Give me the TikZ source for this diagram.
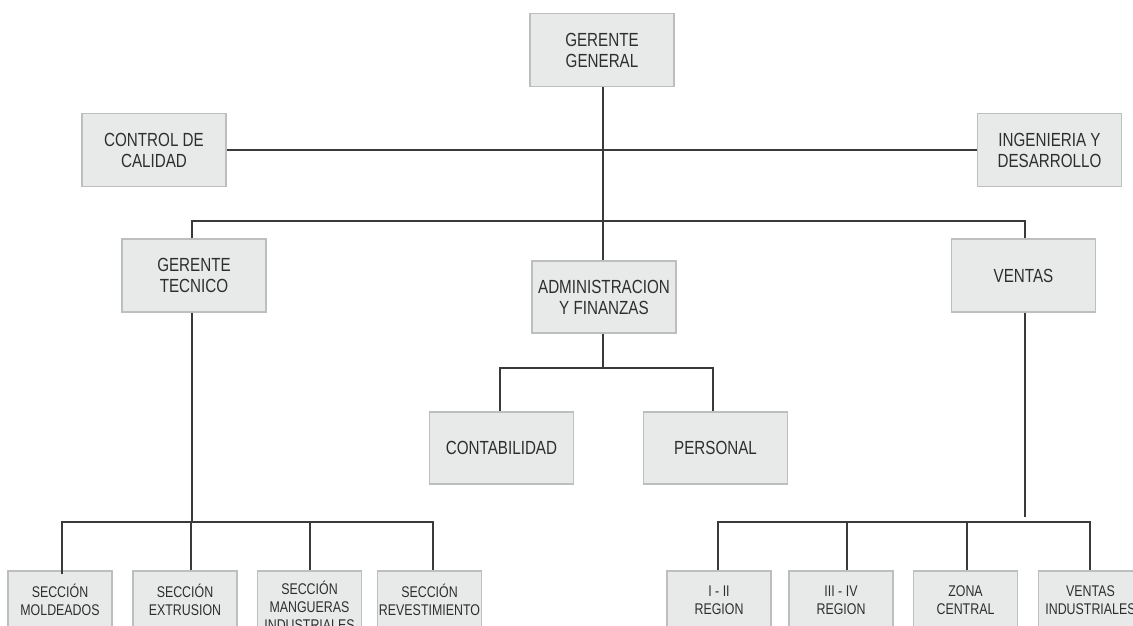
\documentclass[tikz,border=0pt]{standalone}
\usepackage{fontspec}
\setmainfont[FakeStretch=0.8]{Liberation Sans}
\definecolor{boxfill}{HTML}{E8E9E9}
\definecolor{boxline}{HTML}{BDBFBF}
\definecolor{conn}{HTML}{3A3A3A}
\definecolor{txt}{HTML}{2E2E2E}
\begin{document}
\begin{tikzpicture}[x=1pt,y=-1pt,
  unit/.style={draw=boxline,line width=1.3pt,fill=boxfill,inner sep=0pt,align=center,text=txt,
    font=\fontsize{19}{21}\selectfont,minimum width=144pt,minimum height=73pt},
  small/.style={unit,font=\fontsize{15.5}{18}\selectfont,minimum width=104pt,minimum height=58pt},
  link/.style={draw=conn,line width=1.3pt}]
\useasboundingbox (0,0) rectangle (1133,625);
\clip (0,0) rectangle (1133,625);
% nodes
\node[unit] (gg) at (602,50) {GERENTE\\GENERAL};
\node[unit] (cc) at (154,150) {CONTROL DE\\CALIDAD};
\node[unit] (ing) at (1049.5,150) {INGENIERIA Y\\DESARROLLO};
\node[unit] (gt) at (194,275.5) {GERENTE\\TECNICO};
\node[unit,minimum height=72pt] (adm) at (604,297) {ADMINISTRACION\\Y FINANZAS};
\node[unit] (ven) at (1023.5,275.5) {VENTAS};
\node[unit,minimum height=72pt] (cont) at (501.5,448) {CONTABILIDAD};
\node[unit,minimum height=72pt] (pers) at (715.5,448) {PERSONAL};
\node[small] (s1) at (60,600) {SECCIÓN\\MOLDEADOS};
\node[small] (s2) at (185,600) {SECCIÓN\\EXTRUSION};
\node[small,minimum height=70pt] (s3) at (309.5,606) {SECCIÓN\\MANGUERAS\\INDUSTRIALES};
\node[small] (s4) at (429.5,600) {SECCIÓN\\REVESTIMIENTO};
\node[small] (r1) at (719,600) {I - II\\REGION};
\node[small] (r2) at (841,600) {III - IV\\REGION};
\node[small] (r3) at (965.5,600) {ZONA\\CENTRAL};
\node[small] (r4) at (1090.5,600) {VENTAS\\INDUSTRIALES};
% bus coordinates
\coordinate (bus1) at (603,221);
\coordinate (bus2) at (603,368);
\coordinate (bus3) at (192,522);
\coordinate (bus4) at (1025,522);
\coordinate (venend) at (1025,517);
% connectors
\draw[link] (cc.east) -- (ing.west);
\draw[link] ([xshift=1pt]gg.south) -- (bus1);
\draw[link] ([xshift=-2pt]gt.north) |- (bus1) -| ([xshift=1.5pt]ven.north);
\draw[link] (bus1) -- ([xshift=-1pt]adm.north);
\draw[link] ([xshift=-1pt]adm.south) -- (bus2);
\draw[link] ([xshift=-1.5pt]cont.north) |- (bus2) -| ([xshift=-2.5pt]pers.north);
\draw[link] ([xshift=-2pt]gt.south) -- (bus3);
\draw[link] ([xshift=2pt,yshift=-4pt]s1.north) |- (bus3) -| ([xshift=3.5pt]s4.north);
\draw[link] (bus3 -| 191,0) -- ([xshift=6pt]s2.north);
\draw[link] (bus3 -| 310,0) -- ([xshift=0.5pt]s3.north);
\draw[link] ([xshift=1.5pt]ven.south) -- (venend);
\draw[link] ([xshift=-1pt]r1.north) |- (bus4) -| ([xshift=-0.5pt]r4.north);
\draw[link] (bus4 -| 847,0) -- ([xshift=6pt]r2.north);
\draw[link] (bus4 -| 967,0) -- ([xshift=1.5pt]r3.north);
\end{tikzpicture}
\end{document}
